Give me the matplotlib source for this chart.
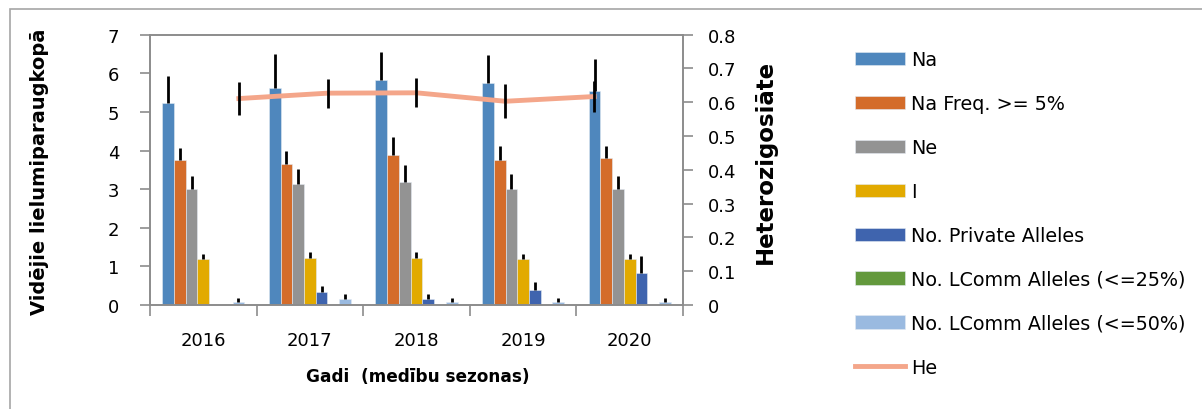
import numpy as np
import matplotlib
matplotlib.use("Agg")
import matplotlib.pyplot as plt
from matplotlib.patches import Rectangle

plt.rcParams['font.family'] = ['DejaVu Sans']

# Data
years = ['2016', '2017', '2018', '2019', '2020']
series_names = ['Na', 'Na Freq. >= 5%', 'Ne', 'I', 'No. Private Alleles',
                'No. LComm Alleles (<=25%)', 'No. LComm Alleles (<=50%)']
na = [5.22, 5.63, 5.82, 5.74, 5.55]
na_err = [0.72, 0.88, 0.74, 0.73, 0.82]
na_freq = [3.75, 3.65, 3.88, 3.75, 3.80]
na_freq_err = [0.31, 0.34, 0.46, 0.36, 0.31]
ne = [3.00, 3.13, 3.18, 3.00, 3.00]
ne_err = [0.35, 0.39, 0.45, 0.39, 0.35]
info = [1.19, 1.23, 1.23, 1.19, 1.19]
info_err = [0.12, 0.13, 0.13, 0.12, 0.12]
private = [0.0, 0.34, 0.15, 0.39, 0.82]
private_err = [0.0, 0.16, 0.13, 0.21, 0.44]
lcomm25 = [0.0, 0.0, 0.0, 0.0, 0.0]
lcomm25_err = [0.0, 0.0, 0.0, 0.0, 0.0]
lcomm50 = [0.07, 0.16, 0.07, 0.07, 0.07]
lcomm50_err = [0.10, 0.12, 0.10, 0.10, 0.10]
he = [0.611, 0.627, 0.628, 0.603, 0.617]
he_err = [0.049, 0.043, 0.043, 0.050, 0.046]

values = [na, na_freq, ne, info, private, lcomm25, lcomm50]
errors = [na_err, na_freq_err, ne_err, info_err, private_err, lcomm25_err, lcomm50_err]
colors = ['#4F87BD', '#D46C2A', '#939393', '#E2AA00', '#3F64AE', '#63993D', '#9ABAE0']
he_color = '#F4A68A'
axis_gray = '#8C8C8C'

W, H = 1202, 410
fig = plt.figure(figsize=(W / 100, H / 100), dpi=100)
ax = fig.add_axes([150 / W, 1 - 306 / H, (683 - 150) / W, (306 - 35.7) / H])

# outer chart border
fig.patches.append(Rectangle((10 / W, -0.1), 1.2, 1 - 10 / H + 0.1,
                             transform=fig.transFigure, fill=False,
                             edgecolor='#A6A6A6', linewidth=1.2))

x = np.arange(len(years))
bw = 0.11
for i, (vals, errs, c, name) in enumerate(zip(values, errors, colors, series_names)):
    pos = x + (i - 3) * bw
    ax.bar(pos, vals, width=bw, color=c, edgecolor='#E3EAF2', linewidth=0.4,
           label=name, zorder=2)
    errs = np.array(errs)
    mask = errs > 0
    ax.errorbar(pos[mask], np.array(vals)[mask],
                yerr=[np.zeros(mask.sum()), errs[mask]],
                fmt='none', ecolor='black', elinewidth=2, capsize=0, zorder=3)

ax.set_xlim(-0.5, 4.5)
ax.set_ylim(0, 7)
ax.set_yticks(range(0, 8))
ax.set_xticks(np.arange(-0.5, 5, 1))
ax.set_xticklabels([])
ax.set_xticks(x, minor=True)
ax.set_xticklabels(years, minor=True)
ax.tick_params(axis='x', which='major', length=8, width=1.2, color=axis_gray, direction='out')
ax.tick_params(axis='x', which='minor', length=0, pad=19, labelsize=13)
ax.tick_params(axis='y', length=7, width=1.2, color=axis_gray, labelsize=13, pad=15)
for s in ['left', 'bottom', 'top', 'right']:
    ax.spines[s].set_color(axis_gray)
    ax.spines[s].set_linewidth(1.2)

# heterozygosity on the secondary axis, placed on its own category grid
ax2 = ax.twinx()
hx = -0.5 + np.arange(1, 6) * 5 / 6
ax2.plot(hx, he, color=he_color, linewidth=3.5, label='He', zorder=4)
ax2.errorbar(hx, he, yerr=he_err, fmt='none', ecolor='black', elinewidth=2,
             capsize=0, zorder=5)
ax2.set_ylim(0, 0.8)
ax2.set_yticks(np.arange(0, 0.81, 0.1))
ax2.set_yticklabels(['0'] + ['%.1f' % v for v in np.arange(0.1, 0.81, 0.1)])
ax2.tick_params(axis='y', length=7, width=1.2, color=axis_gray, labelsize=13, pad=11)
for s in ['left', 'bottom', 'top', 'right']:
    ax2.spines[s].set_color(axis_gray)
    ax2.spines[s].set_linewidth(1.2)

# axis titles
fig.text(40 / W, 1 - 172 / H, 'Vidējie lielumiparaugkopā', rotation=90,
         ha='center', va='center', fontsize=14, fontweight='bold')
fig.text(765 / W, 1 - 162 / H, 'Heterozigosiāte', rotation=90,
         ha='center', va='center', fontsize=16.5, fontweight='bold')
fig.text(418 / W, 1 - 377 / H, 'Gadi  (medību sezonas)',
         ha='center', va='center', fontsize=12.2, fontweight='bold')

h1, l1 = ax.get_legend_handles_labels()
h2, l2 = ax2.get_legend_handles_labels()
fig.legend(h1 + h2, l1 + l2, loc='upper left', bbox_to_anchor=(838 / W, 1 - 34 / H),
           frameon=False, fontsize=13.8, handlelength=2.6, handleheight=0.7,
           labelspacing=1.3, handletextpad=0.32)

fig.savefig('out.png', dpi=100)
